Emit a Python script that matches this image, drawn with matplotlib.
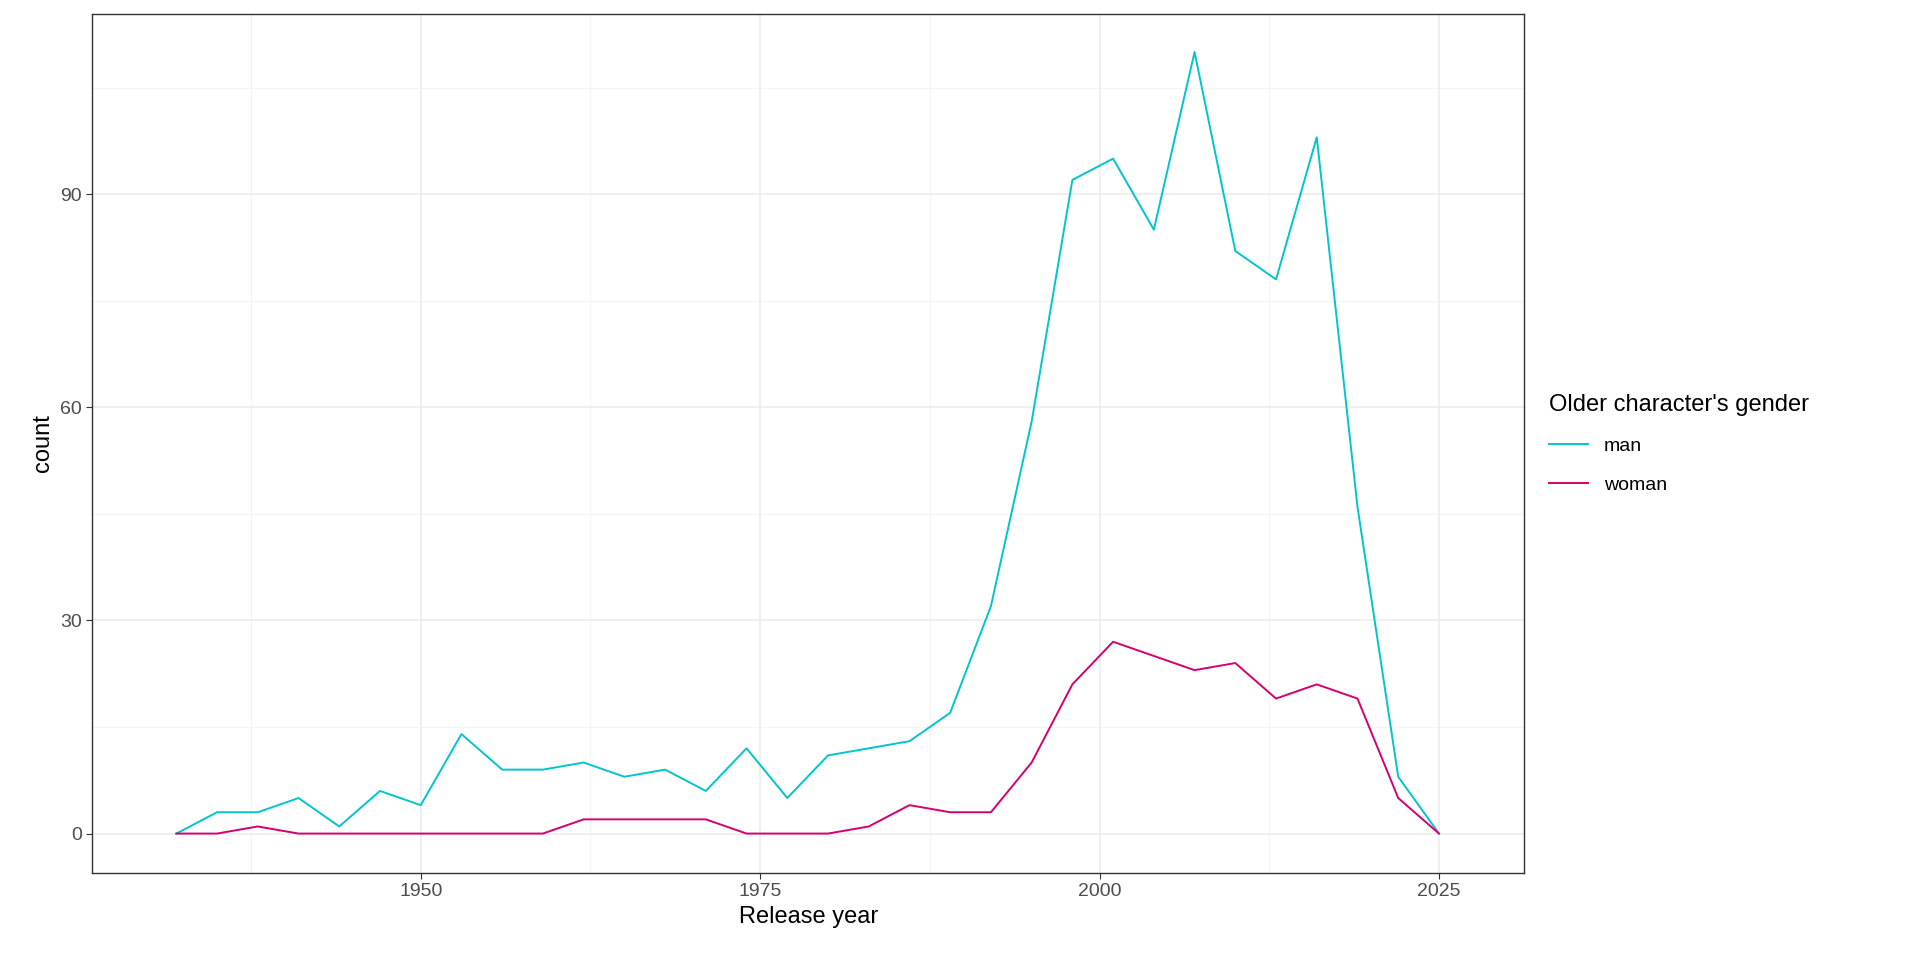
import matplotlib.pyplot as plt
import numpy as np

years = list(range(1932, 2026, 3))
man = [0, 3, 3, 5, 1, 6, 4, 14, 9, 9, 10, 8, 9, 6, 12, 5, 11, 12, 13, 17,
       32, 58, 92, 95, 85, 110, 82, 78, 98, 46, 8, 0]
woman = [0, 0, 1, 0, 0, 0, 0, 0, 0, 0, 2, 2, 2, 2, 0, 0, 0, 1, 4, 3,
         3, 10, 21, 27, 25, 23, 24, 19, 21, 19, 5, 0]

plt.rcParams['font.family'] = ['Liberation Sans', 'DejaVu Sans']
fig = plt.figure(figsize=(19.2, 9.6), dpi=100)
ax = fig.add_axes([0.048, 0.091, 0.746, 0.894])

ax.plot(years, man, color='#00C5CD', lw=1.4, label='man')
ax.plot(years, woman, color='#D4006F', lw=1.4, label='woman')

ax.set_xlim(1925.8, 2031.3)
ax.set_ylim(-5.5, 115.3)
ax.set_xticks([1950, 1975, 2000, 2025])
ax.set_xticks([1937.5, 1962.5, 1987.5, 2012.5], minor=True)
ax.set_yticks([0, 30, 60, 90])
ax.set_yticks([15, 45, 75, 105], minor=True)
ax.grid(which='major', color='#EBEBEB', lw=1.1)
ax.grid(which='minor', color='#F2F2F2', lw=0.6)
ax.set_axisbelow(True)
for s in ax.spines.values():
    s.set_color('#333333')
    s.set_linewidth(1.0)
ax.tick_params(which='major', labelsize=14, colors='#333333', length=4)
ax.tick_params(which='major', labelcolor='#4D4D4D')
ax.tick_params(which='minor', length=0)
ax.set_xlabel('Release year', fontsize=17)
ax.set_ylabel('count', fontsize=17)

leg = ax.legend(title="Older character's gender", loc='center left',
                bbox_to_anchor=(1.005, 0.5), frameon=False, fontsize=14,
                title_fontsize=17, handlelength=2, labelspacing=1.1)
leg._legend_box.align = 'left'

plt.savefig('out.png')
